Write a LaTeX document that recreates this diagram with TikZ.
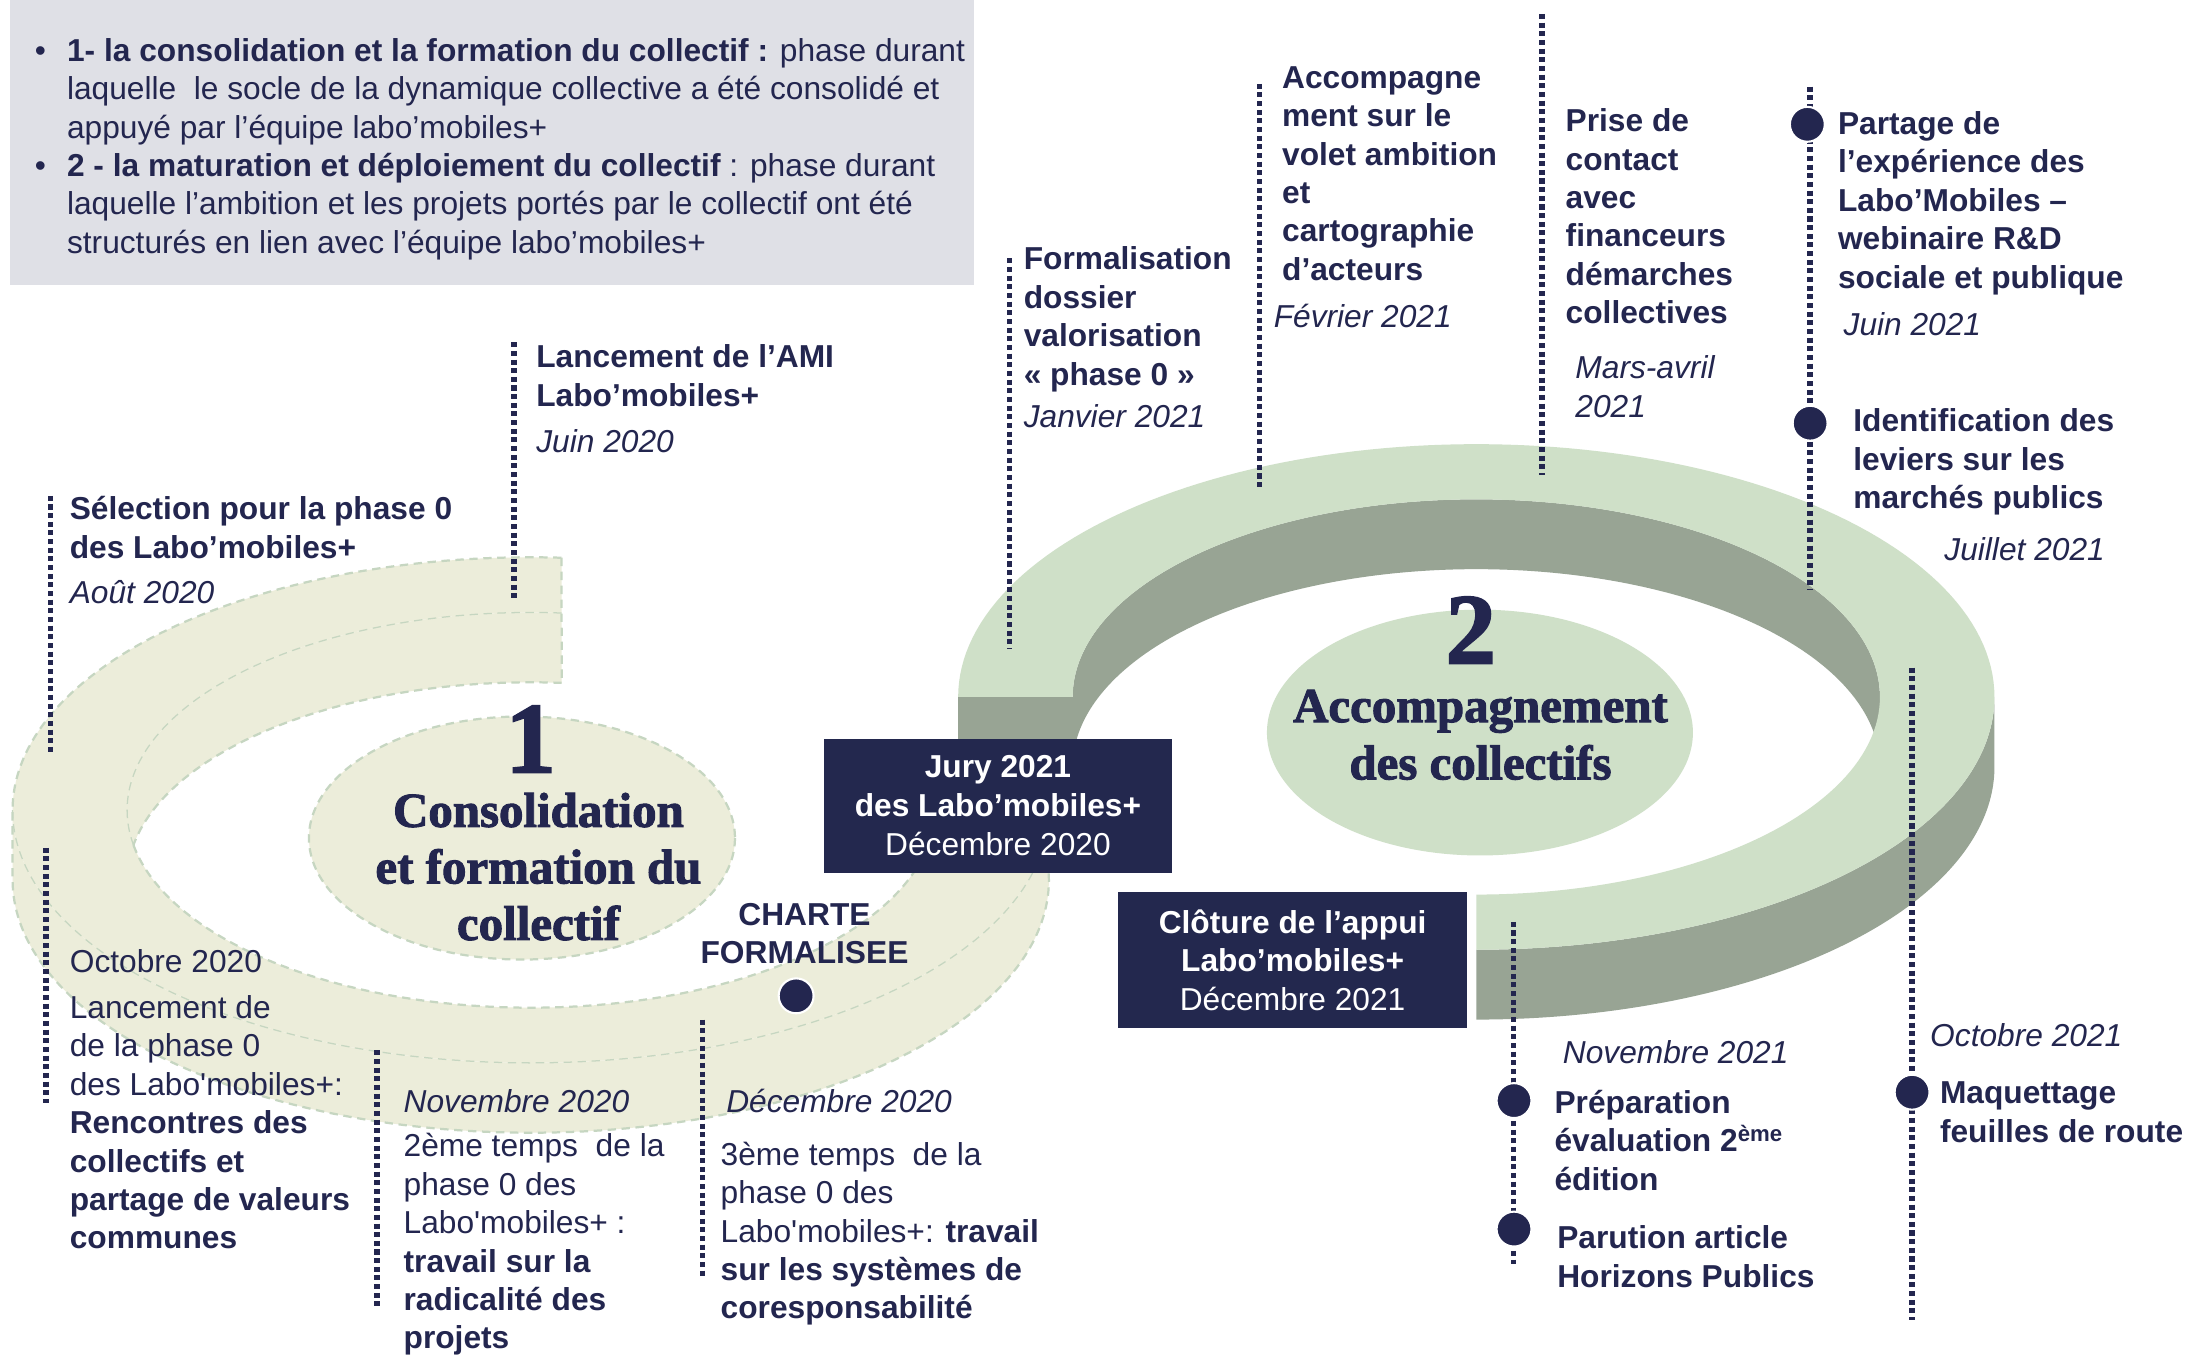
\documentclass[tikz,border=0pt]{standalone}
\usepackage{fontspec}
\setmainfont{Liberation Sans}
\newfontfamily\headfont[FakeBold=2]{Liberation Serif}
\definecolor{navy}{HTML}{23264F}
\definecolor{boxnavy}{HTML}{23284E}
\definecolor{greybox}{HTML}{DFE0E6}
\definecolor{light}{HTML}{CFE0C8}
\definecolor{wall}{HTML}{98A494}
\definecolor{beige}{HTML}{ECEDDA}
\definecolor{sage}{HTML}{C6D6C1}
\newcommand{\bodyf}{\fontsize{22.7}{27.5}\selectfont}
\newcommand{\hf}{\headfont\bfseries\fontsize{35}{41}\selectfont}
\newcommand{\ellpath}[7]{plot[domain=#6:#7,samples=160,variable=\ang] ({#1+#3*cos(\ang)},{#2-#4*sin(\ang)+#5})}
\newcommand{\ellto}[7]{-- plot[domain=#6:#7,samples=160,variable=\ang] ({#1+#3*cos(\ang)},{#2-#4*sin(\ang)+#5})}
\begin{document}
\begin{tikzpicture}[x=1pt,y=-1pt,
  txt/.style={anchor=north west,inner sep=0pt,outer sep=0pt,align=left,font=\bodyf,text=navy},
  ctxt/.style={anchor=north,inner sep=0pt,align=center,font=\bodyf,text=navy},
  dotline/.style={draw=navy,line width=3.8pt,dash pattern=on 3.6pt off 2.6pt},
  dotmark/.style={circle,fill=navy,draw=white,line width=1.5pt,minimum size=25pt,inner sep=0pt},
  navybox/.style={fill=boxnavy,text=white,align=center,inner sep=0pt,minimum width=249pt,minimum height=96pt,font=\fontsize{22.7}{27.8}\selectfont},
  ghost/.style={draw=sage,line width=1.6pt,dash pattern=on 6pt off 4pt},
  ghostthin/.style={draw=sage,line width=0.9pt,dash pattern=on 6pt off 4pt},
  headline/.style={anchor=base,inner sep=0pt,text=navy,font=\hf},
  bignum/.style={anchor=base,inner sep=0pt,text=navy,font=\headfont\bfseries\fontsize{72}{72}\selectfont}
]
\fill[white] (0,0) rectangle (1568,971);
\useasboundingbox (0,0) rectangle (1568,971);

% ---- intro box
\fill[greybox] (7,0) rectangle (697,204);
\node[txt,font=\fontsize{22.7}{27.4}\selectfont] (intro) at (48,25) {\strut\llap{•\hspace{15pt}}\textbf{1- la consolidation et la formation du collectif :} phase durant\\
laquelle\ \ le socle de la dynamique collective a été consolidé et\\
appuyé par l’équipe labo’mobiles+\\
\llap{•\hspace{15pt}}\textbf{2 - la maturation et déploiement du collectif} : phase durant\\
laquelle l’ambition et les projets portés par le collectif ont été\\
structurés en lien avec l’équipe labo’mobiles+};

% ---- left (faded) ring
\fill[beige] \ellpath{380}{580}{371}{181}{0}{86.6}{368} \ellto{380}{580}{289}{141.5}{0}{368}{85.6} -- cycle;
\fill[beige] \ellpath{380}{580}{289}{141.5}{0}{85.6}{180} \ellto{380}{580}{289}{141.5}{50}{180}{85.6} -- cycle;
\fill[beige] \ellpath{380}{580}{371}{181}{0}{180}{368} \ellto{380}{580}{371}{181}{50}{368}{180} -- cycle;
\draw[ghost] \ellpath{380}{580}{371}{181}{0}{86.6}{180} \ellto{380}{580}{371}{181}{50}{180}{368};
\draw[ghost] \ellpath{380}{580}{289}{141.5}{50}{85.6}{169.8};
\draw[ghost] \ellpath{380}{580}{289}{141.5}{0}{190.2}{368};
\draw[ghost] (402,399.3) -- (402.2,488.9);
\draw[ghostthin] \ellpath{380}{580}{289}{141.5}{0}{85.6}{190.2};
\draw[ghostthin] \ellpath{380}{580}{371}{181}{0}{180}{368};
\filldraw[fill=beige,ghost] (373.7,600) ellipse [x radius=152.5,y radius=87];

% ---- right ring
\fill[wall] \ellpath{1057}{499}{371}{181}{0}{-90}{0} \ellto{1057}{499}{371}{181}{50}{0}{-90} -- cycle;
\fill[wall] \ellpath{1057}{499}{289}{141.5}{0}{0}{180} \ellto{1057}{499}{289}{141.5}{50}{180}{0} -- cycle;
\fill[wall] (686,499) rectangle (768,549);
\fill[light] \ellpath{1057}{499}{371}{181}{0}{-90}{180} \ellto{1057}{499}{289}{141.5}{0}{180}{-90} -- cycle;
\fill[light] (1059.6,524.5) ellipse [x radius=152.5,y radius=88];

% ---- headings
\node[bignum] (n1) at (380,553) {1};
\node[headline] (h1a) at (385.5,592) {Consolidation};
\node[headline] (h1b) at (385.5,632.5) {et formation du};
\node[headline] (h1c) at (385.5,673) {collectif};
\node[bignum] (n2) at (1053,475) {2};
\node[headline] (h2a) at (1060,517) {Accompagnement};
\node[headline] (h2b) at (1060,558) {des collectifs};

% ---- dotted timeline lines
\coordinate (aT) at (368,245); \coordinate (aB) at (368,430);
\coordinate (bT) at (36,355);  \coordinate (bB) at (36,540);
\coordinate (cT) at (723,185); \coordinate (cB) at (723,465);
\coordinate (dT) at (902,60);  \coordinate (dB) at (902,350);
\coordinate (eT) at (1104,10); \coordinate (eB) at (1104,340);
\coordinate (fT) at (1296,62); \coordinate (fB) at (1296,422);
\coordinate (kT) at (33,607);  \coordinate (kB) at (33,790);
\coordinate (lT) at (270,752); \coordinate (lB) at (270,937);
\coordinate (mT) at (503,730); \coordinate (mB) at (503,915);
\coordinate (nT) at (1083.5,660); \coordinate (nB) at (1083.5,905);
\coordinate (oT) at (1369,478); \coordinate (oB) at (1369,945);
\foreach \p in {a,b,c,d,e,f,k,l,m,n,o}{\draw[dotline] (\p T) -- (\p B);}

% ---- dots
\node[dotmark] (dF) at (1294,89) {};
\node[dotmark] (dG) at (1296,303) {};
\node[dotmark] (dN1) at (1084,788) {};
\node[dotmark] (dN2) at (1084,880) {};
\node[dotmark] (dO) at (1369,782) {};
\node[dotmark] (dC) at (570,713) {};

% ---- boxes
\node[navybox] (jury) at (714.5,577) {\textbf{Jury 2021}\\\textbf{des Labo’mobiles+}\\Décembre 2020};
\node[navybox,minimum width=250pt,minimum height=97pt] (cloture) at (925.5,687.5) {\textbf{Clôture de l’appui}\\\textbf{Labo’mobiles+}\\Décembre 2021};

% ---- texts
\node[txt] (selT) at (50,353) {\strut\textbf{Sélection pour la phase 0}\\\textbf{des Labo’mobiles+}\\[4.5pt]\textit{Août 2020}};
\node[txt] (amiT) at (384,244) {\strut\textbf{Lancement de l’AMI}\\\textbf{Labo’mobiles+}\\[5.5pt]\textit{Juin 2020}};
\node[txt] (formT) at (733,174) {\strut\textbf{Formalisation}\\\textbf{dossier}\\\textbf{valorisation}\\\textbf{« phase 0 »}\\[2.5pt]\textit{Janvier 2021}};
\node[txt] (accT) at (918,44) {\strut\textbf{Accompagne}\\\textbf{ment sur le}\\\textbf{volet ambition}\\\textbf{et}\\\textbf{cartographie}\\\textbf{d’acteurs}};
\node[txt] (accD) at (912,215) {\strut\textit{Février 2021}};
\node[txt] (priseT) at (1121,75) {\strut\textbf{Prise de}\\\textbf{contact}\\\textbf{avec}\\\textbf{financeurs}\\\textbf{démarches}\\\textbf{collectives}};
\node[txt] (priseD) at (1128,252) {\strut\textit{Mars-avril}\\\textit{2021}};
\node[txt] (partT) at (1316,77) {\strut\textbf{Partage de}\\\textbf{l’expérience des}\\\textbf{Labo’Mobiles –}\\\textbf{webinaire R\&D}\\\textbf{sociale et publique}};
\node[txt] (partD) at (1320,221) {\strut\textit{Juin 2021}};
\node[txt] (idT) at (1327,290) {\strut\textbf{Identification des}\\\textbf{leviers sur les}\\\textbf{marchés publics}};
\node[txt,anchor=north east] (idD) at (1507,382) {\strut\textit{Juillet 2021}};
\node[txt] (octT) at (50,677) {\strut Octobre 2020\\[5.5pt]Lancement de\\de la phase 0\\des Labo\textquotesingle mobiles+:\\\textbf{Rencontres des}\\\textbf{collectifs et}\\\textbf{partage de valeurs}\\\textbf{communes}};
\node[txt] (novD) at (289,777) {\strut\textit{Novembre 2020}};
\node[txt] (novT) at (289,809) {\strut 2ème temps\ \ de la\\phase 0 des\\Labo\textquotesingle mobiles+ :\\\textbf{travail sur la}\\\textbf{radicalité des}\\\textbf{projets}};
\node[txt] (decD) at (520,777) {\strut\textit{Décembre 2020}};
\node[txt] (decT) at (516,815) {\strut 3ème temps\ \ de la\\phase 0 des\\Labo\textquotesingle mobiles+: \textbf{travail}\\\textbf{sur les systèmes de}\\\textbf{coresponsabilité}};
\node[txt] (nov21D) at (1119,742) {\strut\textit{Novembre 2021}};
\node[txt] (prepT) at (1113,778) {\strut\textbf{Préparation}\\\textbf{évaluation 2\textsuperscript{ème}}\\\textbf{édition}};
\node[txt] (parT) at (1115,875) {\strut\textbf{Parution article}\\\textbf{Horizons Publics}};
\node[txt] (oct21D) at (1382,730) {\strut\textit{Octobre 2021}};
\node[txt] (maqT) at (1389,771) {\strut\textbf{Maquettage}\\\textbf{feuilles de route}};
\node[ctxt] (charte) at (576,643) {\strut\textbf{CHARTE}\\\textbf{FORMALISEE}};
\end{tikzpicture}
\end{document}
